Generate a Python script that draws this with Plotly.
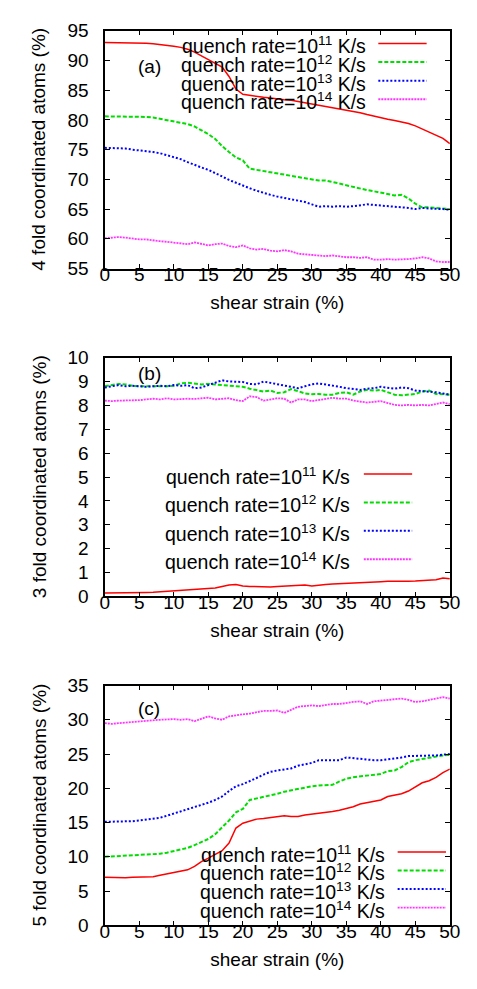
import plotly.graph_objects as go

strain = [0, 1, 2, 3, 4, 5, 6, 7, 8, 9, 10, 11, 12, 13, 14, 15, 16, 17, 18, 19, 20,
          21, 22, 23, 24, 25, 26, 27, 28, 29, 30, 31, 32, 33, 34, 35, 36, 37, 38, 39, 40,
          41, 42, 43, 44, 45, 46, 47, 48, 49, 50]

series_names = ["quench rate=10<sup>11</sup> K/s", "quench rate=10<sup>12</sup> K/s",
                "quench rate=10<sup>13</sup> K/s", "quench rate=10<sup>14</sup> K/s"]

# (a) 4-fold coordinated atoms (%)
a_q11 = [93.0, 93.0, 93.0, 93.0, 92.9, 92.9, 92.9, 92.8, 92.7, 92.5, 92.4, 92.2, 91.9, 91.4, 90.8,
         90.1, 89.5, 88.9, 87.3, 85.2, 84.3, 84.1, 83.9, 83.8, 83.7, 83.5, 83.4, 83.3, 83.1, 82.9,
         82.7, 82.5, 82.2, 82.0, 81.8, 81.6, 81.4, 81.2, 80.9, 80.6, 80.3, 80.1, 79.9, 79.7, 79.4,
         79.0, 78.5, 78.0, 77.5, 76.9, 76.0]
a_q12 = [80.6, 80.6, 80.5, 80.5, 80.5, 80.5, 80.5, 80.4, 80.2, 80.0, 79.8, 79.6, 79.3, 78.9, 78.3,
         77.6, 76.8, 75.6, 74.6, 73.7, 73.2, 71.8, 71.6, 71.4, 71.2, 71.0, 70.7, 70.5, 70.3, 70.1,
         70.0, 69.8, 69.8, 69.6, 69.3, 69.0, 68.7, 68.5, 68.2, 68.0, 67.8, 67.6, 67.3, 67.4, 66.8,
         65.9, 65.3, 65.3, 65.2, 65.1, 65.0]
a_q13 = [75.3, 75.3, 75.2, 75.2, 75.0, 74.9, 74.8, 74.6, 74.4, 74.1, 73.8, 73.4, 72.9, 72.4, 72.0,
         71.6, 71.1, 70.5, 69.9, 69.4, 68.9, 68.5, 68.1, 67.7, 67.4, 67.1, 66.9, 66.7, 66.5, 66.2,
         65.8, 65.4, 65.5, 65.4, 65.5, 65.4, 65.5, 65.7, 65.8, 65.7, 65.6, 65.6, 65.5, 65.4, 65.2,
         65.0, 65.2, 65.1, 65.1, 65.0, 64.9]
a_q14 = [60.1, 60.2, 60.3, 60.2, 60.0, 59.9, 59.9, 59.7, 59.6, 59.5, 59.4, 59.3, 59.1, 59.4, 59.2,
         58.9, 59.1, 59.2, 58.8, 58.6, 58.9, 58.4, 58.2, 58.3, 58.0, 57.9, 58.1, 57.9, 57.5, 57.4,
         57.3, 57.2, 57.1, 57.2, 57.0, 56.9, 56.9, 56.8, 56.9, 56.5, 56.5, 56.6, 56.5, 56.5, 56.6,
         56.7, 56.9, 56.7, 56.2, 56.1, 56.1]

# (b) 3-fold coordinated atoms (%)
b_q11 = [0.14, 0.14, 0.15, 0.15, 0.16, 0.16, 0.17, 0.18, 0.20, 0.21, 0.22, 0.23, 0.25, 0.28, 0.30,
         0.32, 0.35, 0.42, 0.48, 0.50, 0.44, 0.42, 0.41, 0.42, 0.40, 0.42, 0.44, 0.43, 0.45, 0.48,
         0.44, 0.48, 0.50, 0.52, 0.53, 0.55, 0.57, 0.58, 0.57, 0.60, 0.62, 0.64, 0.63, 0.64, 0.64,
         0.65, 0.67, 0.68, 0.70, 0.77, 0.74]
b_q12 = [8.80, 8.85, 8.90, 8.88, 8.82, 8.80, 8.80, 8.78, 8.80, 8.80, 8.82, 8.92, 8.95, 8.90, 8.88,
         8.90, 8.88, 8.85, 8.82, 8.80, 8.78, 8.70, 8.65, 8.58, 8.62, 8.52, 8.55, 8.68, 8.60, 8.50,
         8.47, 8.48, 8.45, 8.45, 8.52, 8.55, 8.45, 8.58, 8.65, 8.62, 8.65, 8.55, 8.45, 8.42, 8.45,
         8.48, 8.58, 8.62, 8.48, 8.45, 8.45]
b_q13 = [8.75, 8.80, 8.85, 8.80, 8.82, 8.80, 8.78, 8.80, 8.82, 8.80, 8.85, 8.82, 8.85, 8.72, 8.75,
         8.85, 8.95, 9.05, 9.00, 8.98, 8.98, 8.90, 8.88, 9.00, 8.95, 8.88, 8.85, 8.80, 8.72, 8.80,
         8.88, 8.92, 8.88, 8.85, 8.78, 8.72, 8.70, 8.65, 8.70, 8.72, 8.78, 8.75, 8.70, 8.75, 8.72,
         8.62, 8.60, 8.58, 8.55, 8.50, 8.45]
b_q14 = [8.20, 8.18, 8.20, 8.20, 8.22, 8.22, 8.25, 8.28, 8.25, 8.30, 8.25, 8.27, 8.28, 8.27, 8.30,
         8.32, 8.25, 8.28, 8.30, 8.22, 8.18, 8.38, 8.35, 8.20, 8.25, 8.30, 8.28, 8.12, 8.25, 8.25,
         8.18, 8.22, 8.25, 8.32, 8.28, 8.28, 8.20, 8.15, 8.12, 8.15, 8.18, 8.10, 8.02, 8.00, 8.02,
         8.00, 8.02, 8.00, 8.05, 8.12, 8.05]

# (c) 5-fold coordinated atoms (%)
c_q11 = [7.0, 6.95, 6.95, 6.95, 7.0, 7.0, 7.05, 7.1, 7.3, 7.5, 7.7, 7.9, 8.1, 8.6, 9.3,
         9.8, 10.3, 10.9, 12.0, 14.2, 14.9, 15.2, 15.5, 15.6, 15.7, 15.8, 16.0, 15.9, 15.9, 16.1,
         16.2, 16.3, 16.4, 16.6, 16.8, 17.0, 17.3, 17.7, 17.9, 18.0, 18.3, 18.8, 19.0, 19.2, 19.6,
         20.2, 20.8, 21.1, 21.6, 22.3, 22.8]
c_q12 = [10.0, 10.05, 10.1, 10.15, 10.2, 10.25, 10.3, 10.35, 10.45, 10.6, 10.8, 11.0, 11.3, 11.7, 12.1,
         12.6, 13.3, 14.3, 15.3, 16.5, 17.0, 18.3, 18.5, 18.8, 18.9, 19.2, 19.5, 19.7, 19.9, 20.2,
         20.3, 20.4, 20.4, 20.5, 21.0, 21.4, 21.6, 21.7, 21.8, 21.9, 22.1, 22.5, 22.6, 23.1, 23.8,
         24.1, 24.3, 24.5, 24.7, 24.8, 24.9]
c_q13 = [15.1, 15.1, 15.1, 15.2, 15.2, 15.3, 15.4, 15.6, 15.7, 16.0, 16.3, 16.6, 16.9, 17.2, 17.5,
         17.9, 18.3, 18.8, 19.6, 20.3, 20.6, 21.0, 21.5, 22.0, 22.4, 22.6, 22.8, 22.9, 23.3, 23.5,
         23.7, 24.1, 24.1, 24.2, 24.1, 24.5, 24.4, 24.3, 24.1, 24.1, 24.1, 24.2, 24.4, 24.5, 24.7,
         24.7, 24.8, 24.8, 24.8, 24.9, 25.0]
c_q14 = [29.5, 29.4, 29.5, 29.6, 29.7, 29.75, 29.8, 29.9, 30.0, 30.05, 30.1, 30.0, 30.1, 29.8, 30.2,
         30.5, 30.2, 30.0, 30.5, 30.7, 30.8, 30.9, 31.1, 31.3, 31.3, 31.35, 31.0, 31.5, 31.9, 32.0,
         32.1, 32.0, 32.2, 32.3, 32.3, 32.5, 32.6, 32.7, 32.3, 32.7, 32.8, 32.9, 33.0, 33.1, 32.9,
         32.6, 32.7, 32.9, 33.2, 33.3, 33.1]

panel_labels = ["(a)", "(b)", "(c)"]
y_titles = ["4 fold coordinated atoms (%)", "3 fold coordinated atoms (%)", "5 fold coordinated atoms (%)"]
y_ranges = [[55, 95], [0, 10], [0, 35]]
y_dticks = [5, 1, 5]
x_title = "shear strain (%)"

colors = ["#ff0000", "#00dd00", "#0000ff", "#ff33ff"]
dashes = ["solid", "4px,2px", "2px,2px", "2px,1px"]
widths = [1.5, 2, 2, 1.8]

W, H = 477, 989
FONT = "Liberation Sans, Arial, sans-serif"

# pixel geometry
x_left, x_right = 95, 452
panel_px = [(13, 256), (347, 591), (682, 927)]
ytitle_x = 27

fig = go.Figure()
data = [[a_q11, a_q12, a_q13, a_q14], [b_q11, b_q12, b_q13, b_q14], [c_q11, c_q12, c_q13, c_q14]]

for p in range(3):
    suffix = "" if p == 0 else str(p + 1)
    for s in range(4):
        fig.add_trace(go.Scatter(
            x=strain, y=data[p][s], mode="lines", name=series_names[s], showlegend=False,
            line=dict(color=colors[s], width=widths[s], dash=dashes[s]),
            xaxis="x" + suffix, yaxis="y" + suffix))
    top, bot = panel_px[p]
    ax = dict(
        domain=[x_left / W, x_right / W], range=[0, 50], dtick=5, tick0=0,
        showline=True, linecolor="black", linewidth=1.5, mirror="allticks",
        ticks="inside", ticklen=5, tickcolor="black", showgrid=False, zeroline=False,
        ticklabelstandoff=-12,
        tickfont=dict(family=FONT, size=19, color="black"),
        title=dict(text=x_title, font=dict(family=FONT, size=19, color="black"), standoff=12),
        anchor="y" + suffix)
    ay = dict(
        domain=[1 - bot / H, 1 - top / H], range=y_ranges[p], dtick=y_dticks[p],
        showline=True, linecolor="black", linewidth=1.5, mirror="allticks",
        ticks="inside", ticklen=5, tickcolor="black", showgrid=False, zeroline=False,
        ticksuffix="\u2007",
        tickfont=dict(family=FONT, size=19, color="black"),
        anchor="x" + suffix)
    fig.update_layout(**{"xaxis" + suffix: ax, "yaxis" + suffix: ay})
    # y-axis title as rotated text at the reference position
    fig.add_annotation(x=ytitle_x / W, y=1 - (top + bot) / 2 / H, xref="paper", yref="paper",
                       text=y_titles[p], showarrow=False, textangle=-90,
                       xanchor="center", yanchor="middle",
                       font=dict(family=FONT, size=19, color="black"))

# panel labels
label_pos = [(141, 50), (141, 363), (141, 705)]
for p in range(3):
    fig.add_annotation(x=label_pos[p][0] / W, y=1 - label_pos[p][1] / H, xref="paper", yref="paper",
                       text=panel_labels[p], showarrow=False, xanchor="center", yanchor="middle",
                       font=dict(family=FONT, size=19, color="black"))

# key blocks (gnuplot style: text then line sample)
keys = [
    dict(text_right=367, line_x=(378, 428), rows=[26, 45, 64, 83]),
    dict(text_right=351, line_x=(363, 413), rows=[466, 495, 524, 553]),
    dict(text_right=387, line_x=(398, 448), rows=[852, 871, 890, 909]),
]
for k in keys:
    for s in range(4):
        yrow = k["rows"][s]
        fig.add_annotation(x=k["text_right"] / W, y=1 - (yrow + 2) / H, xref="paper", yref="paper",
                           text=series_names[s], showarrow=False, xanchor="right", yanchor="middle",
                           font=dict(family=FONT, size=19.5, color="black"))
        fig.add_shape(type="line", xref="paper", yref="paper",
                      x0=k["line_x"][0] / W, x1=k["line_x"][1] / W,
                      y0=1 - yrow / H, y1=1 - yrow / H,
                      line=dict(color=colors[s], width=widths[s], dash=dashes[s]))

fig.update_layout(width=W, height=H, margin=dict(l=0, r=0, t=0, b=0),
                  paper_bgcolor="white", plot_bgcolor="white", showlegend=False,
                  font=dict(family=FONT, color="black"))

fig.write_html("out.html")
